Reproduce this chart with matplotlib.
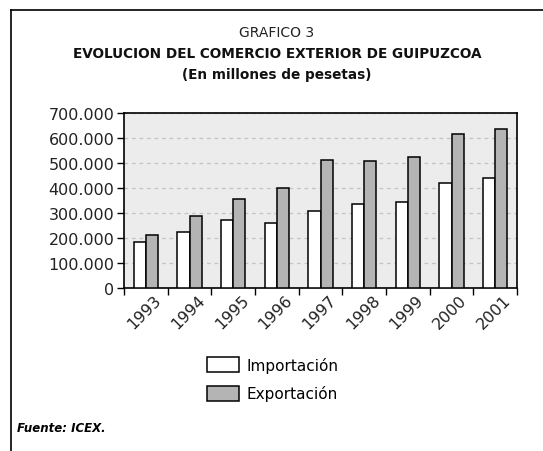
import matplotlib
matplotlib.use("Agg")
import matplotlib.pyplot as plt
import matplotlib.transforms as mtransforms
import numpy as np
from matplotlib.ticker import FuncFormatter, MultipleLocator

years = ["1993", "1994", "1995", "1996", "1997", "1998", "1999", "2000", "2001"]
importacion = [186000, 226000, 272000, 259000, 310000, 335000, 346000, 422000, 442000]
exportacion = [212000, 287000, 357000, 400000, 512000, 508000, 524000, 617000, 637000]
series_names = ["Importación", "Exportación"]
series_colors = ["#ffffff", "#b4b4b4"]

W, H = 543, 452
fig = plt.figure(figsize=(W / 100, H / 100), dpi=100)
fig.patch.set_facecolor("white")

# outer frame (left and top visible)
fig.add_artist(plt.Line2D([11 / W, 11 / W], [0, 1 - 11 / H], transform=fig.transFigure, color="black", lw=1.2))
fig.add_artist(plt.Line2D([11 / W, 1], [1 - 11 / H, 1 - 11 / H], transform=fig.transFigure, color="black", lw=1.2))

ax_l, ax_r, ax_t, ax_b = 124, 517, 114, 289
ax = fig.add_axes([ax_l / W, 1 - ax_b / H, (ax_r - ax_l) / W, (ax_b - ax_t) / H])
ax.set_facecolor("#ececec")

x = np.arange(len(years))
bw = 0.28
ax.bar(x - bw / 2, importacion, bw, color=series_colors[0], edgecolor="black", linewidth=1.1, label=series_names[0], zorder=3)
ax.bar(x + bw / 2, exportacion, bw, color=series_colors[1], edgecolor="black", linewidth=1.1, label=series_names[1], zorder=3)

ax.set_xlim(-0.5, len(years) - 0.5)
ax.set_ylim(0, 700000)
ax.yaxis.set_major_locator(MultipleLocator(100000))
ax.yaxis.set_major_formatter(FuncFormatter(lambda v, p: f"{int(v):,}".replace(",", ".")))
ax.yaxis.grid(True, linestyle=(0, (3, 3)), color="#c4c4c4", linewidth=0.9, zorder=0)

ax.set_xticks(np.arange(len(years) + 1) - 0.5)
ax.set_xticklabels([])
ax.set_xticks(x, minor=True)
ax.set_xticklabels(years, minor=True, rotation=45, ha="right", rotation_mode="anchor", fontsize=11.5, color="#222222")
ax.tick_params(axis="x", which="minor", length=0, pad=3)
ax.tick_params(axis="x", which="major", length=5, direction="out", width=1)
ax.tick_params(axis="y", length=5, direction="out", width=1, labelsize=11.5, labelcolor="#222222", pad=2)
for s in ax.spines.values():
    s.set_linewidth(1.2)
offset = mtransforms.ScaledTranslation(8 / 100, 0, fig.dpi_scale_trans)
for lab in ax.get_xticklabels(minor=True):
    lab.set_transform(lab.get_transform() + offset)

# titles
cx = 0.5 * (11 + W) / W
fig.text(cx, 1 - 33 / H, "GRAFICO 3", ha="center", va="center", fontsize=10, color="#222222")
fig.text(cx, 1 - 54 / H, "EVOLUCION DEL COMERCIO EXTERIOR DE GUIPUZCOA", ha="center", va="center", fontsize=9.8, fontweight="bold", color="#111111")
fig.text(cx, 1 - 75 / H, "(En millones de pesetas)", ha="center", va="center", fontsize=9.8, fontweight="bold", color="#111111")

# legend
handles, labels = ax.get_legend_handles_labels()
fig.legend(handles, labels, loc="center left", bbox_to_anchor=(193 / W, 1 - 380 / H), frameon=False,
           fontsize=11, handlelength=2.1, handleheight=1.1, labelspacing=0.85, handletextpad=0.5)

fig.text(17 / W, 1 - 429 / H, "Fuente: ICEX.", ha="left", va="center", fontsize=8.5, fontweight="bold", fontstyle="italic")

fig.savefig("out.png", dpi=100)
